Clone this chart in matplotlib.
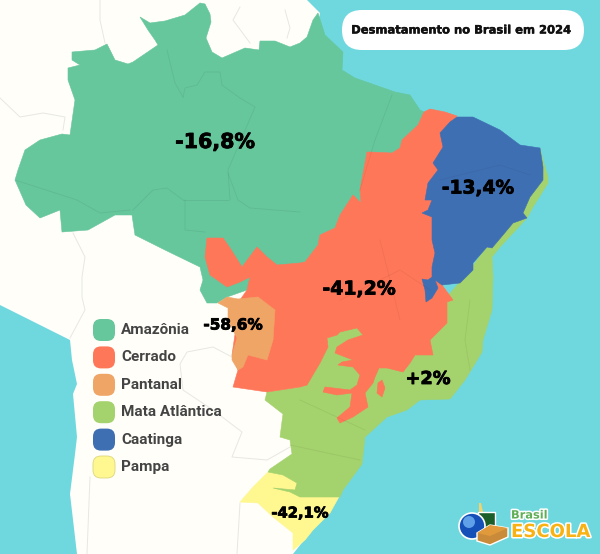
import matplotlib
matplotlib.use("Agg")
import matplotlib.pyplot as plt
from matplotlib.patches import Polygon, FancyBboxPatch, Circle
import matplotlib.patheffects as pe

title = "Desmatamento no Brasil em 2024"
biomes = ["Amazônia", "Cerrado", "Pantanal", "Mata Atlântica", "Caatinga", "Pampa"]
changes = ["-16,8%", "-41,2%", "-58,6%", "+2%", "-13,4%", "-42,1%"]
colors = ["#66C69C", "#FF7759", "#EFA566", "#A4D26C", "#3F6FB3", "#FFF78F"]

OCEAN = "#6FD8DE"
LAND = "#FFFEF9"

land_outline = [(0,0),(307,0),(320,13),(318,25),(330,60),(300,120),(300,300),(345,420),(335,470),(340,495),(293,554),
                (77,554),(70,494),(75,454),(77,437),(73,394),(77,384),(72,360),(70,340),(50,330),(0,305)]

amazonia_outline = [(140,17),(150,23),(165,21),(185,15),(200,3),(205,4),(210,14),(211,22),(206,38),(212,52),(222,58),
    (245,48),(259,50),(260,41),(275,41),(290,47),(300,43),(307,37),(313,20),(318,13),(325,35),(343,52),(342,70),(355,78),
    (375,85),(395,92),(410,95),(420,110),(424,112),(418,125),(402,140),(400,148),(392,153),(370,152),(367,152),
    (360,190),(361,203),(353,195),(340,215),(335,228),(320,235),(318,245),(305,262),(300,275),(270,290),(250,285),
    (247,290),(227,297),(217,303),(207,303),(200,290),(203,280),(200,267),(165,250),(135,235),(132,215),(115,215),
    (88,230),(62,232),(60,210),(40,218),(26,205),(15,180),(18,170),(25,150),(40,140),(62,134),(70,135),(75,100),
    (68,80),(68,68),(80,65),(72,60),(72,52),(95,50),(107,44),(115,60),(128,64),(133,62),(158,45),(155,40),(148,30)]

mata_outline = [(540,148),(543,160),(548,177),(548,183),(533,207),(527,218),(500,247),(492,257),(493,277),(492,310),
    (483,340),(482,352),(465,380),(450,399),(420,400),(407,410),(387,417),(365,437),(362,464),(343,490),(340,497),
    (300,497),(290,492),(273,488),(295,490),(297,483),(283,475),(268,472),(270,469),(292,454),(290,440),(280,437),(283,414),(265,400),
    (267,392),(300,387),(330,300),(447,297),(470,270),(520,200)]

cerrado_outline = [(424,112),(430,109),(445,112),(457,116),(448,130),(440,200),(435,270),(442,285),(453,300),(447,302),
    (447,323),(430,340),(433,355),(415,355),(410,363),(403,372),(387,368),(379,368),(375,377),(373,383),(365,393),(368,407),
    (353,417),(340,423),(337,418),(350,407),(352,393),(337,395),(323,392),(325,387),(350,390),(357,385),(360,375),
    (353,367),(338,365),(342,362),(353,360),(335,353),(337,347),(348,340),(363,335),(357,328),(340,332),(337,335),
    (327,338),(328,347),(320,363),(307,385),(300,387),(267,392),(233,387),(238,370),(232,355),(240,300),(247,290),
    (250,277),(240,282),(227,287),(213,277),(210,275),(205,257),(207,238),(223,238),(230,248),(242,267),(257,247),
    (267,257),(277,265),(300,263),(305,262),(318,245),(320,235),(335,228),(340,215),(353,195),(361,203),(360,190),
    (367,152),(370,152),(392,153),(400,148),(402,140),(418,125)]
cerrado_island = [(382,380),(385,388),(382,397),(377,393),(378,383)]

pantanal_outline = [(218,303),(227,297),(238,299),(258,297),(275,310),(273,340),(267,360),(248,355),(243,367),(238,370),
    (232,360),(232,355),(237,338),(228,320),(228,308)]

caatinga_outline = [(457,117),(473,117),(500,130),(520,145),(540,148),(543,167),(543,180),(530,197),(523,213),(527,218),
    (513,223),(503,235),(492,248),(487,247),(473,263),(473,270),(460,283),(442,285),(435,280),(438,288),(432,298),(426,302),
    (425,290),(422,279),(428,280),(432,277),(432,267),(435,253),(432,240),(432,217),(422,213),(428,210),(432,200),(425,200),(428,183),
    (438,170),(433,163),(443,147),(440,133),(450,122)]

pampa_outline = [(240,502),(253,487),(268,472),(283,475),(297,483),(295,490),(273,488),(290,492),(300,495),(340,495),
    (330,513),(313,530),(305,540),(293,550),(293,533),(273,517),(258,503)]

neighbor_borders = [[(100,0),(100,20),(105,43)],[(240,7),(233,20),(250,43)],[(285,10),(290,28),(287,38)],
                    [(0,98),(20,117),(43,113),(65,117),(63,130)],[(73,233),(85,257),(82,277),(82,297),(85,310),(70,338)],
                    [(90,477),(87,554)],[(240,503),(237,554)],
                    [(232,357),(213,347),(187,352),(180,364),(183,390),(213,410),(242,432),(232,457),(267,460),(290,447)]]
state_borders = [[(15,180),(77,200),(100,213),(130,210)],[(167,50),(175,83),(183,97)],
                 [(183,97),(185,88),(197,85),(205,72),(220,72),(222,85),(240,98),(255,107),(228,170),(230,200)],
                 [(183,200),(228,200)],[(185,200),(185,230),(205,232)],[(228,173),(238,200),(250,208),(300,212)],
                 [(133,210),(153,190),(167,188),(183,200)],[(392,95),(375,140),(360,190)],[(380,240),(390,280),(400,320)],
                 [(340,300),(400,270),(430,290)],[(440,180),(500,165),(530,175)],[(300,400),(365,430)],[(290,445),(360,460)],
                 [(470,300),(465,340),(470,370)]]

fig = plt.figure(figsize=(6, 5.54), dpi=100, facecolor=OCEAN)
ax = fig.add_axes([0, 0, 1, 1])
ax.set_xlim(0, 600)
ax.set_ylim(554, 0)
ax.axis("off")

ax.add_patch(Polygon(land_outline, fc=LAND, ec="none", zorder=1))
for seg in neighbor_borders:
    ax.plot(*zip(*seg), color="#E8E8E3", lw=0.7, zorder=1.5)

outlines = [amazonia_outline, cerrado_outline, pantanal_outline, mata_outline, caatinga_outline, pampa_outline]
zorders = [2, 4, 5, 2.5, 6, 2.2]
for pts, c, z in zip(outlines, colors, zorders):
    ax.add_patch(Polygon(pts, fc=c, ec=c, lw=0.4, zorder=z))
ax.add_patch(Polygon(cerrado_island, fc=colors[1], ec=colors[1], lw=0.4, zorder=4))
for seg in state_borders:
    ax.plot(*zip(*seg), color="#000000", alpha=0.06, lw=0.6, zorder=6.5)

# title pill
ax.add_patch(FancyBboxPatch((342, 10), 242, 40, boxstyle="round,pad=0,rounding_size=20", fc="white", ec="none", zorder=7))
ax.text(461, 30, title, fontsize=8.3, fontweight="bold", family="DejaVu Sans", ha="center", va="center", color="#111111", zorder=8,
        path_effects=[pe.withStroke(linewidth=0.3, foreground="#111111")])

# value labels
label_pos = [(215, 142, 14.8), (359, 289, 13.6), (233, 325, 11), (428, 379, 12.8), (478, 188, 13.4), (300, 513, 10.6)]
for s, (x, y, fs) in zip(changes, label_pos):
    ax.text(x, y, s, fontsize=fs, fontweight="bold", family="DejaVu Sans", ha="center", va="center", color="black", zorder=9,
            path_effects=[pe.withStroke(linewidth=0.6, foreground="black")])

# legend
for i, (name, c) in enumerate(zip(biomes, colors)):
    y = 330 + 27.4 * i
    ax.add_patch(FancyBboxPatch((93, y - 11), 22, 22, boxstyle="round,pad=0,rounding_size=8", fc=c,
                                ec="#DDD77A" if name == "Pampa" else "none", lw=0.6, zorder=7))
    ax.text(121, y, name, fontsize=11, fontweight="bold", family="Roboto", ha="left", va="center",
            color="#444444", zorder=8)

# logo
white = "white"
ax.add_patch(Polygon([(479,503),(481,503),(483,512),(479,512)], fc="#F3D36B", ec="none", zorder=7))
ax.add_patch(Polygon([(478,512),(495,512),(495,528),(478,528)], fc="#1C5E2A", ec=white, lw=1, zorder=7))
ax.add_patch(Circle((472, 526), 13, fc="#1450B8", ec=white, lw=1.2, zorder=8))
ax.add_patch(Circle((469, 522), 6, fc="#5FA0E8", ec="none", zorder=8))
ax.add_patch(Polygon([(477,533),(490,525),(508,528),(508,537),(490,545),(477,541)], fc="#C98A3A", ec=white, lw=1, zorder=9))
ax.add_patch(Polygon([(477,533),(490,536),(508,528),(490,525)], fc="#E09A3C", ec="none", zorder=9))
logo_fx = [pe.withStroke(linewidth=2.2, foreground="white")]
ax.text(511, 515.5, "Brasil", fontsize=8.2, fontweight="bold", family="DejaVu Sans", color="#5FAE57", ha="left", va="center", zorder=9, path_effects=logo_fx)
ax.text(511, 532, "ESCOLA", fontsize=13, fontweight="bold", family="DejaVu Sans", color="#F9B214", ha="left", va="center", zorder=9, path_effects=logo_fx)

fig.savefig("out.png", dpi=100, facecolor=OCEAN)
